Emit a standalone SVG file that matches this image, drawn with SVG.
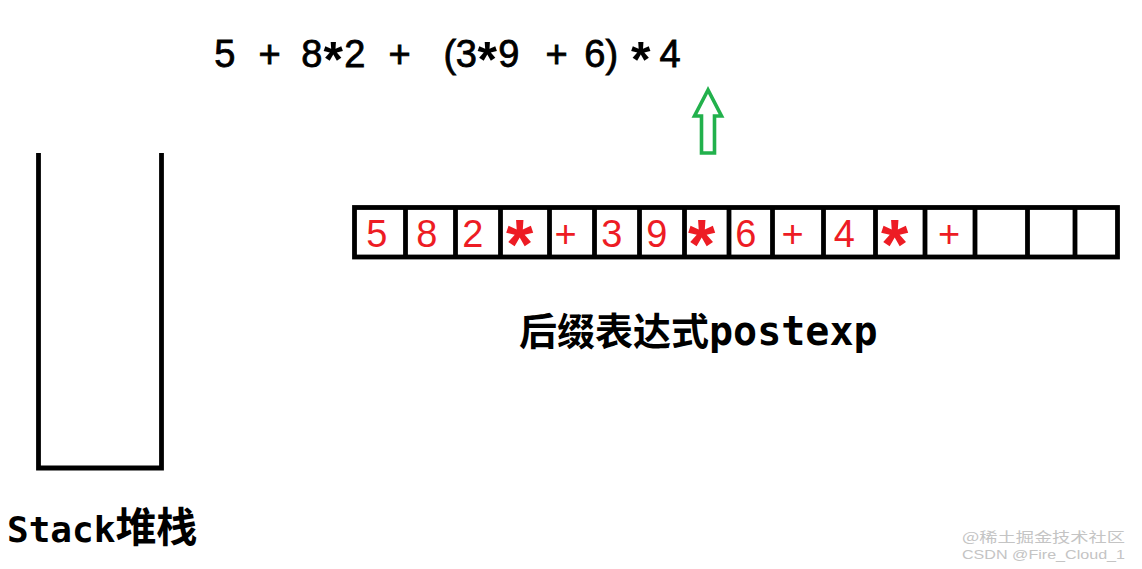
<svg xmlns="http://www.w3.org/2000/svg" width="1142" height="569" viewBox="0 0 1142 569">
<style>
.expr{font-family:"Liberation Sans",Arial,sans-serif;font-size:38px;fill:#000;stroke:#000;stroke-width:0.8;text-anchor:middle}
.star{font-family:"Liberation Sans",Arial,sans-serif;font-weight:bold;text-anchor:middle}
.cell{font-family:"Liberation Sans",Arial,sans-serif;font-size:38px;fill:#ED1C24;text-anchor:middle}
.box{fill:none;stroke:#000;stroke-width:4.8}
.lat{font-family:"DejaVu Sans Mono","Liberation Mono",monospace;font-weight:bold}
.cjk{font-family:"Noto Sans CJK SC","Noto Sans",sans-serif;font-weight:bold}
.wm{fill:#c4c4c4}
</style>
<rect width="1142" height="569" fill="#fff"/>

<g id="expression">
<text class="expr">
<tspan x="230" y="67">5</tspan>
<tspan x="275" y="67">+</tspan>
<tspan x="317" y="67">8</tspan>
<tspan x="338.5" y="77" class="star" font-size="50" stroke-width="0">*</tspan>
<tspan x="360" y="67">2</tspan>
<tspan x="405" y="67">+</tspan>
<tspan x="455" y="67">(</tspan>
<tspan x="471.5" y="67">3</tspan>
<tspan x="492.5" y="77" class="star" font-size="50" stroke-width="0">*</tspan>
<tspan x="514" y="67">9</tspan>
<tspan x="562" y="67">+</tspan>
<tspan x="600" y="67">6</tspan>
<tspan x="617" y="67">)</tspan>
<tspan x="646" y="77" class="star" font-size="50" stroke-width="0">*</tspan>
<tspan x="670" y="67">4</tspan>
</text>
</g>

<g id="connectors">
<path d="M708,90 L694.5,116 L701.5,116 L701.5,153 L714.5,153 L714.5,116 L721.5,116 Z" fill="none" stroke="#22B14C" stroke-width="3.6" stroke-linejoin="miter"/>
</g>

<g id="postexp">
<rect class="box" x="354.5" y="207.5" width="763" height="49.5"/>
<path class="box" d="M405.5,207.5V257 M455.5,207.5V257 M500.5,207.5V257 M549.5,207.5V257 M594.5,207.5V257 M639.5,207.5V257 M684.5,207.5V257 M729,207.5V257 M772.5,207.5V257 M823.5,207.5V257 M875.5,207.5V257 M925,207.5V257 M975,207.5V257 M1027.5,207.5V257 M1075,207.5V257"/>
<text class="cell">
<tspan x="382" y="246.5">5</tspan>
<tspan x="432" y="246.5">8</tspan>
<tspan x="478" y="246.5">2</tspan>
<tspan x="525" y="269" class="star" font-size="70">*</tspan>
<tspan x="571" y="246.5">+</tspan>
<tspan x="617" y="246.5">3</tspan>
<tspan x="662" y="246.5">9</tspan>
<tspan x="707" y="269" class="star" font-size="70">*</tspan>
<tspan x="751" y="246.5">6</tspan>
<tspan x="798" y="246.5">+</tspan>
<tspan x="849.5" y="246.5">4</tspan>
<tspan x="900" y="269" class="star" font-size="70">*</tspan>
<tspan x="949" y="246.5">+</tspan>
</text>
</g>

<g id="postexp-label">
<text x="519" y="345"><tspan class="cjk" font-size="38">后缀表达式</tspan><tspan class="lat" font-size="40">postexp</tspan></text>
</g>

<g id="stack">
<path d="M38.5,153 V468 H161.5 V153" fill="none" stroke="#000" stroke-width="4.8" stroke-linejoin="miter"/>
</g>

<g id="stack-label">
<text x="7" y="542"><tspan class="lat" font-size="36">Stack</tspan><tspan class="cjk" font-size="41">堆栈</tspan></text>
</g>

<g id="watermark">
<text class="wm" x="962" y="542" font-family="Noto Sans CJK SC, Liberation Sans, sans-serif" font-size="14" textLength="163" lengthAdjust="spacingAndGlyphs">@稀土掘金技术社区</text>
<text class="wm" x="962" y="559" font-family="Liberation Sans, Arial, sans-serif" font-size="13" textLength="163" lengthAdjust="spacingAndGlyphs">CSDN @Fire_Cloud_1</text>
</g>
</svg>
